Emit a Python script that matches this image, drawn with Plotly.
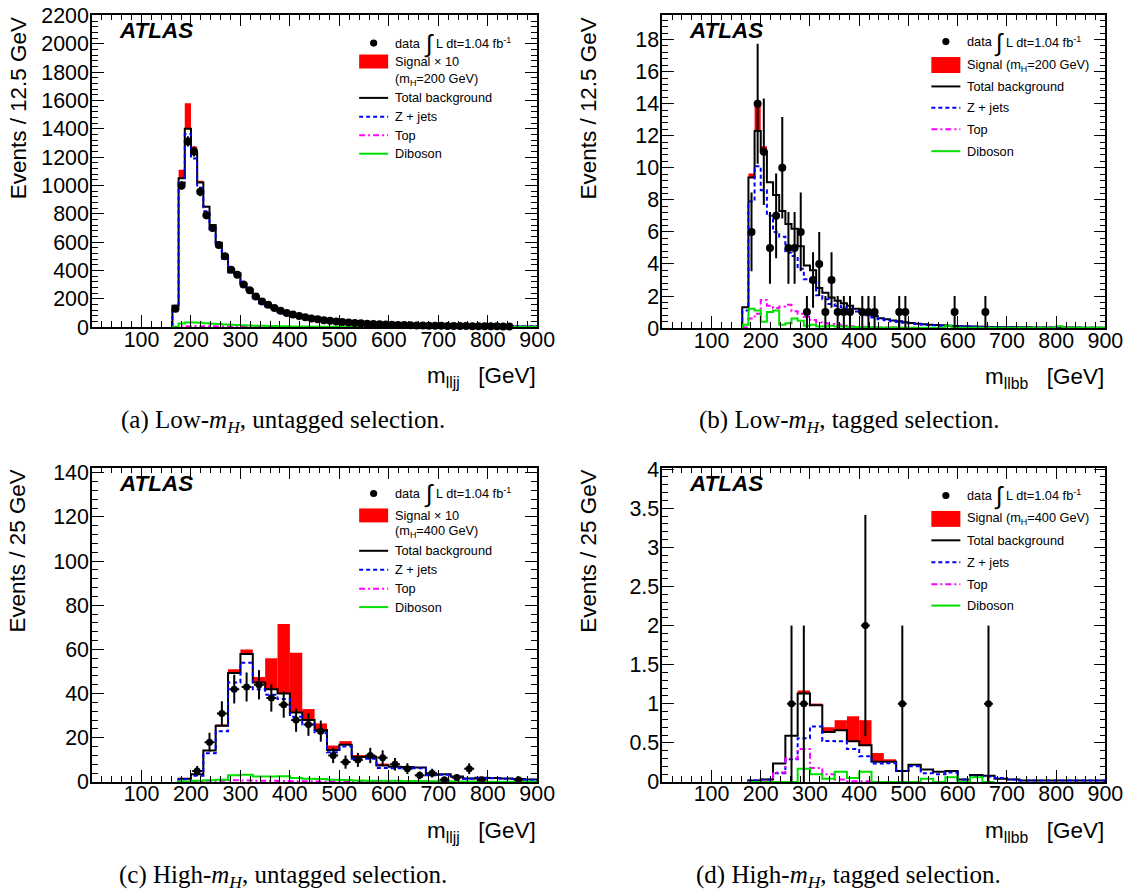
import numpy as np
import plotly.graph_objects as go

W, H = 1152, 904   # figure size; positions below are given in target-picture pixels

# ---------------- (a) Low-mH, untagged: m_lljj, 12.5 GeV bins from 162.5 GeV ----------------
a_bin0, a_binw = 162.5, 12.5
a_total = [150, 1050, 1400, 1230, 1020, 850, 720, 595, 505, 405, 380, 305, 265, 215, 180, 155, 132, 112,
           96, 86, 77, 69, 62, 56, 50, 45, 40, 36, 33, 30, 27, 25, 23, 21, 19, 17.5, 16, 15, 14, 13, 12, 11,
           10, 9.5, 9, 8.5, 8, 7.5, 7, 6.5, 6, 5.7, 5.4, 5.1, 4.8, 4.5, 4.2, 4.0, 3.8]
a_zjets = [146, 1019, 1362, 1190, 984, 818, 691, 570, 482, 385, 362, 289, 251, 203, 169, 145.5, 123.5,
           104.8, 90, 80.5, 72.2, 64.8, 58.4, 52.8, 47.1, 42.5, 37.8, 34.1, 31.2, 28.3, 25.6, 23.7, 21.8,
           19.9, 18.1, 16.6, 15.2, 14.3, 13.3, 12.4, 11.5, 10.6, 9.6, 9.1, 8.7, 8.2, 7.7, 7.2, 6.7, 6.3,
           5.8, 5.5, 5.2, 4.9, 4.6, 4.3, 4.1, 3.9, 3.7]
a_top = [1, 5, 6, 7, 6, 5, 5, 4, 4, 3, 3, 3, 2, 2, 2, 1.5, 1.5, 1.2, 1, 1, 0.8, 0.7, 0.6, 0.5, 0.5, 0.4,
         0.4, 0.3, 0.3, 0.3, 0.2, 0.2, 0.2, 0.2, 0.1, 0.1, 0.1, 0.1, 0.1, 0.1]
a_dibo = [3, 26, 32, 33, 30, 27, 24, 21, 19, 17, 15, 13, 12, 10, 9, 8, 7, 6, 5, 4.5, 4, 3.5, 3, 2.7, 2.4,
          2.1, 1.8, 1.6, 1.5, 1.4, 1.2, 1.1, 1.0, 0.9, 0.8, 0.8, 0.7, 0.6, 0.6, 0.5, 0.5, 0.4, 0.4, 0.4,
          0.3, 0.3, 0.3, 0.3, 0.3, 0.2, 0.2, 0.2, 0.2, 0.2, 0.2, 0.2, 0.1, 0.1, 0.1]
a_signal = [3, 60, 180, 45, 10, 3]          # signal x 10, stacked on total background
a_data = [130, 1000, 1310, 1240, 955, 790, 700, 580, 500, 405, 370, 300, 260, 215, 180, 158, 135, 115,
          100, 88, 79, 70, 61, 55, 49, 44, 39, 35, 32, 29, 27, 24, 22, 20, 18, 17, 15, 14, 13, 12, 11, 10,
          9, 9, 8, 8, 7, 7, 6, 6, 5, 5, 5, 4, 4]

# ---------------- (b) Low-mH, tagged: m_llbb, 12.5 GeV bins from 162.5 GeV ----------------
b_bin0, b_binw = 162.5, 12.5
b_total = [1.3, 9.4, 12.3, 11.0, 9.1, 8.3, 7.3, 6.5, 6.2, 5.1, 3.9, 3.6, 2.5, 2.2, 1.9, 1.7, 1.55, 1.4,
           1.2, 1.0, 0.9, 0.75, 0.62, 0.55, 0.48, 0.42, 0.36, 0.31, 0.27, 0.24, 0.21, 0.19, 0.17, 0.15,
           0.13, 0.12, 0.11, 0.1, 0.09, 0.08, 0.07, 0.07, 0.06, 0.06, 0.05, 0.05, 0.05, 0.04, 0.04, 0.04,
           0.04, 0.03, 0.03, 0.03, 0.03, 0.02, 0.02, 0.02, 0.02]
b_zjets = [1.1, 7.9, 10.1, 8.6, 7.0, 6.0, 5.7, 4.7, 4.5, 3.7, 3.05, 2.9, 2.05, 1.8, 1.5, 1.4, 1.3, 1.2,
           1.03, 0.87, 0.8, 0.66, 0.55, 0.49, 0.43, 0.38, 0.33, 0.28, 0.25, 0.22, 0.19, 0.17, 0.15, 0.14,
           0.12, 0.11, 0.1, 0.09, 0.08, 0.07, 0.06, 0.06, 0.05, 0.05, 0.05, 0.04, 0.04, 0.04, 0.03, 0.03,
           0.03, 0.03, 0.02, 0.02, 0.02, 0.02, 0.02, 0.02, 0.02]
b_top = [0.05, 0.6, 0.9, 1.75, 1.4, 1.25, 1.35, 1.45, 1.05, 0.9, 0.7, 0.5, 0.35, 0.3, 0.25, 0.2, 0.15,
         0.12, 0.1, 0.08, 0.06, 0.05, 0.04, 0.03, 0.03, 0.02, 0.02, 0.02, 0.01, 0.01]
b_dibo = [0.2, 1.2, 1.1, 0.4, 1.0, 1.1, 0.2, 0.3, 0.6, 0.45, 0.15, 0.2, 0.1, 0.1, 0.15, 0.1, 0.1, 0.08,
          0.07, 0.05, 0.05, 0.04, 0.04, 0.03, 0.03, 0.03, 0.02, 0.02, 0.02, 0.02, 0.02, 0.02, 0.02, 0.15,
          0.02, 0.02, 0.02, 0.02, 0.02, 0.02, 0.02, 0.02, 0.02, 0.02, 0.02, 0.02, 0.02, 0.02, 0.02, 0.02,
          0.02, 0.12, 0.02, 0.02, 0.02, 0.02, 0.02, 0.02, 0.02]
b_signal = [0.0, 0.25, 1.6, 0.35]
b_data_x = [181.25, 193.75, 206.25, 218.75, 231.25, 243.75, 256.25, 268.75, 281.25, 293.75, 306.25,
            318.75, 331.25, 343.75, 356.25, 368.75, 381.25, 406.25, 418.75, 431.25, 481.25, 493.75,
            593.75, 656.25]
b_data_n = [6, 14, 11, 5, 7, 10, 5, 5, 6, 1, 3, 4, 1, 3, 1, 1, 1, 1, 1, 1, 1, 1, 1, 1]

# ---------------- (c) High-mH, untagged: m_lljj, 25 GeV bins from 175 GeV ----------------
c_bin0, c_binw = 175.0, 25.0
c_total = [1.5, 3.5, 14.2, 25.5, 49.3, 57.9, 45, 42, 40, 31.5, 28, 23.5, 14.5, 16.9, 11.3, 11.3, 7.5,
           6.9, 6.8, 6.6, 3.3, 3.5, 2.5, 1.6, 1.9, 1.8, 1.6, 1.4, 1.1]
c_zjets = [1.2, 2.8, 13, 23, 45, 54, 42, 39.5, 37.5, 29.5, 26, 22, 13.5, 16, 10.5, 10.5, 6.3, 6.2, 6.2,
           6.2, 3.0, 3.3, 2.3, 1.5, 1.8, 1.7, 1.5, 1.3, 1.0]
c_top = [0.1, 0.3, 0.5, 0.6, 0.8, 0.7, 0.6, 0.5, 0.4, 0.3, 0.3, 0.2, 0.2, 0.2, 0.1, 0.1, 0.1, 0.1, 0.1, 0.1]
c_dibo = [0.2, 0.5, 0.8, 1.0, 3.0, 3.3, 2.5, 2.5, 2.6, 1.8, 1.5, 1.3, 1.0, 0.9, 0.7, 0.6, 0.5, 0.5, 0.4,
          0.4, 0.3, 0.3, 0.2, 0.2, 0.15, 0.1, 0.1, 0.1, 0.1]
c_signal = [0, 0, 0, 0.3, 1.7, 2.1, 2.5, 14, 31.5, 27, 5, 3, 2, 1.6, 0.9, 0.9, 0.5]
c_data_x = [212.5, 237.5, 262.5, 287.5, 312.5, 337.5, 362.5, 387.5, 412.5, 437.5, 462.5, 487.5, 512.5,
            537.5, 562.5, 587.5, 612.5, 637.5, 662.5, 687.5, 712.5, 737.5, 762.5, 787.5, 862.5]
c_data_n = [5, 18, 31, 42, 43, 44, 38, 35, 28, 26, 23, 12, 9, 10, 12, 11, 8, 6, 3, 4, 1, 2, 6, 1, 1]

# ---------------- (d) High-mH, tagged: m_llbb, 25 GeV bins from 175 GeV ----------------
d_bin0, d_binw = 175.0, 25.0
d_total = [0.02, 0.03, 0.235, 0.59, 1.13, 0.98, 0.64, 0.66, 0.52, 0.47, 0.26, 0.26, 0.14, 0.22, 0.16,
           0.13, 0.14, 0.03, 0.09, 0.08, 0.04, 0.03, 0.02, 0.02, 0.02, 0.02, 0.02, 0.02, 0.02]
d_zjets = [0.02, 0.03, 0.11, 0.29, 0.56, 0.71, 0.525, 0.52, 0.42, 0.33, 0.235, 0.24, 0.14, 0.2, 0.11,
           0.1, 0.12, 0.03, 0.07, 0.07, 0.05, 0.03, 0.02, 0.02, 0.02, 0.02, 0.02, 0.02, 0.02]
d_top = [0, 0.01, 0.12, 0.3, 0.42, 0.18, 0.1, 0.03, 0.01, 0.01]
d_dibo = [0, 0, 0, 0, 0.17, 0.1, 0.04, 0.13, 0.05, 0.13, 0, 0, 0, 0, 0.04, 0, 0.06, 0, 0.06, 0]
d_signal = [0, 0, 0, 0, 0.04, 0.02, 0.06, 0.13, 0.32, 0.32, 0.11, 0.03]
d_data_x = [262.5, 287.5, 412.5, 487.5, 662.5]
d_data_n = [1, 1, 2, 1, 1]

# ---------------- styling ----------------
SANS = "Liberation Sans, Arial, Helvetica, sans-serif"
SERIF = "Liberation Serif, Times New Roman, serif"
RED, BLUE, MAG, GREEN = "#ff0000", "#0000ff", "#ff00ff", "#00e000"
BLUE_DASH = "4px,3px"
MAG_DASH = "6px,3px,2px,3px"

# the photographed page comes out slightly shrunk/offset; place items in target-picture pixels
OX, OY, SX, SY = 1.0, 7.8, 0.984, 0.978
FS = 1.02


def px(x):
    return ((x - OX) / SX) / W


def py(y):
    return 1 - ((y - OY) / SY) / H


def step_xy(bin0, binw, vals):
    edges = bin0 + binw * np.arange(len(vals) + 1)
    xs = np.concatenate([[edges[0]], edges])
    ys = np.concatenate([[0.0], np.asarray(vals, float), [0.0]])
    return xs, ys


panels = [
    dict(xa="x", ya="y", bin0=a_bin0, binw=a_binw, total=a_total, zjets=a_zjets, top=a_top, dibo=a_dibo,
         signal=a_signal,
         dx=a_bin0 + a_binw * (np.arange(len(a_data)) + 0.5), dn=a_data, xerr=0, msize=8,
         dom_x=(93, 538), dom_y=(12.5, 326), yr=[0, 2205], ydt=200, ymin=40,
         ytitle="Events / 12.5 GeV", xsub="lljj", cap="(a) Low-", cap2="untagged selection.",
         mass="200", left=True, cap_x=284, cap_y=421),
    dict(xa="x2", ya="y2", bin0=b_bin0, binw=b_binw, total=b_total, zjets=b_zjets, top=b_top, dibo=b_dibo,
         signal=b_signal, dx=b_data_x, dn=b_data_n, xerr=0, msize=8,
         dom_x=(663, 1106), dom_y=(12.5, 327), yr=[0, 19.55], ydt=2, ymin=0.4,
         ytitle="Events / 12.5 GeV", xsub="llbb", cap="(b) Low-", cap2="tagged selection.",
         mass="200", left=False, cap_x=850, cap_y=421),
    dict(xa="x3", ya="y3", bin0=c_bin0, binw=c_binw, total=c_total, zjets=c_zjets, top=c_top, dibo=c_dibo,
         signal=c_signal, dx=c_data_x, dn=c_data_n, xerr=10, msize=7,
         dom_x=(93, 538), dom_y=(467, 782.5), yr=[0, 142.3], ydt=20, ymin=4,
         ytitle="Events / 25 GeV", xsub="lljj", cap="(c) High-", cap2="untagged selection.",
         mass="400", left=True, cap_x=284, cap_y=877),
    dict(xa="x4", ya="y4", bin0=d_bin0, binw=d_binw, total=d_total, zjets=d_zjets, top=d_top, dibo=d_dibo,
         signal=d_signal, dx=d_data_x, dn=d_data_n, xerr=9, msize=7,
         dom_x=(663, 1106), dom_y=(467, 782.5), yr=[0, 4.02], ydt=0.5, ymin=0.1,
         ytitle="Events / 25 GeV", xsub="llbb", cap="(d) High-", cap2="tagged selection.",
         mass="400", left=False, cap_x=849, cap_y=877),
]

fig = go.Figure()
layout = dict(width=W, height=H, autosize=False, margin=dict(l=0, r=0, t=0, b=0, pad=0),
              paper_bgcolor="white", plot_bgcolor="white", showlegend=False, barmode="overlay",
              font=dict(family=SANS, color="black"))
shapes, annotations = [], []

for p in panels:
    xa, ya = p["xa"], p["ya"]
    sig = np.asarray(p["signal"], float)
    centers = p["bin0"] + p["binw"] * (np.arange(len(sig)) + 0.5)
    fig.add_trace(go.Bar(x=centers, y=sig, base=np.asarray(p["total"][:len(sig)], float), width=p["binw"],
                         marker=dict(color=RED, line=dict(width=0)), xaxis=xa, yaxis=ya))
    for vals, color, dash in [(p["total"], "black", "solid"), (p["zjets"], BLUE, BLUE_DASH),
                              (p["top"], MAG, MAG_DASH), (p["dibo"], GREEN, "solid")]:
        xs, ys = step_xy(p["bin0"], p["binw"], vals)
        fig.add_trace(go.Scatter(x=xs, y=ys, mode="lines", line=dict(color=color, width=2, dash=dash, shape="hv"),
                                 xaxis=xa, yaxis=ya))
    dn = np.asarray(p["dn"], float)
    err_x = dict(type="constant", value=p["xerr"], thickness=2, width=0, color="black", visible=p["xerr"] > 0)
    fig.add_trace(go.Scatter(x=p["dx"], y=dn, mode="markers", cliponaxis=False,
                             marker=dict(color="black", size=p["msize"]),
                             error_y=dict(type="data", array=np.sqrt(dn), thickness=2, width=0, color="black"),
                             error_x=err_x, xaxis=xa, yaxis=ya))

    axkey = "xaxis" + xa[1:]
    aykey = "yaxis" + ya[1:]
    common = dict(showline=True, linecolor="black", linewidth=1.6, mirror="allticks", ticks="inside",
                  ticklen=12, tickwidth=1.3, tickcolor="black", showgrid=False, zeroline=False,
                  tickfont=dict(family=SANS, size=21 * FS, color="black"))
    layout[axkey] = dict(common, domain=[px(p["dom_x"][0]), px(p["dom_x"][1])], range=[0, 900],
                         tickmode="array", tickvals=list(range(100, 901, 100)), anchor=ya,
                         ticklabelstandoff=-8,
                         minor=dict(ticks="inside", ticklen=6, tickwidth=1.1, tickcolor="black",
                                    tickmode="linear", tick0=0, dtick=20, showgrid=False))
    layout[aykey] = dict(common, domain=[py(p["dom_y"][1]), py(p["dom_y"][0])], range=p["yr"],
                         tickmode="linear", tick0=0, dtick=p["ydt"], anchor=xa, ticklabelstandoff=-3,
                         minor=dict(ticks="inside", ticklen=6, tickwidth=1.1, tickcolor="black",
                                    tickmode="linear", tick0=0, dtick=p["ymin"], showgrid=False))

    x0, x1 = p["dom_x"]
    yt, yb = p["dom_y"]
    ytx = 19 if p["left"] else 589
    annotations.append(dict(xref="paper", yref="paper", x=px(ytx), y=py(yt + 0.5), xanchor="center",
                            yanchor="top", textangle=-90, showarrow=False, text=p["ytitle"],
                            font=dict(family=SANS, size=22 * FS, color="black")))
    annotations.append(dict(xref="paper", yref="paper", x=px(x1 + 1), y=py(yb + 50), xanchor="right",
                            yanchor="middle", showarrow=False,
                            text="m<sub>" + p["xsub"] + "</sub>\u00a0\u00a0\u00a0[GeV]",
                            font=dict(family=SANS, size=22 * FS, color="black")))
    annotations.append(dict(xref="paper", yref="paper", x=px(x0 + 25), y=py(yt + 15.5), xanchor="left",
                            yanchor="middle", showarrow=False, text="<b><i>ATLAS</i></b>",
                            font=dict(family=SANS, size=22 * FS, color="black")))
    annotations.append(dict(xref="paper", yref="paper", x=px(p["cap_x"]), y=py(p["cap_y"]), xanchor="center",
                            yanchor="middle", showarrow=False,
                            text=p["cap"] + "<i>m</i><sub><i>H</i></sub>, " + p["cap2"],
                            font=dict(family=SERIF, size=24.5 * FS, color="black")))

    # legend
    f = dict(family=SANS, size=12.5 * FS, color="black")
    if p["left"]:
        sx0, sx1, tx = 360, 389, 394
        if yt < 100:
            rows = dict(data=41, sig=59.5, sig2=77.5, tot=96, z=115, top=133.5, dib=152)
        else:
            rows = dict(data=493, sig=515, sig2=531, tot=550.5, z=569.5, top=588.5, dib=607)
        ix, lx = tx + 36, tx + 41
    else:
        sx0, sx1, tx = 932, 961, 966
        if yt < 100:
            rows = dict(data=39.5, sig=63, tot=84.5, z=106, top=127.5, dib=149.5)
        else:
            rows = dict(data=495, sig=518.5, tot=540, z=562, top=584, dib=605.5)
        ix, lx = tx + 34, tx + 39
    cx = (sx0 + sx1) / 2
    shapes.append(dict(type="circle", xref="paper", yref="paper", x0=px(cx - 3.6), x1=px(cx + 3.6),
                       y0=py(rows["data"] + 3.6), y1=py(rows["data"] - 3.6), fillcolor="black",
                       line=dict(width=0)))
    annotations.append(dict(xref="paper", yref="paper", x=px(tx), y=py(rows["data"]), xanchor="left",
                            yanchor="middle", showarrow=False, text="data", font=f))
    annotations.append(dict(xref="paper", yref="paper", x=px(ix), y=py(rows["data"] + 1), xanchor="center",
                            yanchor="middle", showarrow=False, text="\u222b",
                            font=dict(family=SANS, size=24 * FS, color="black")))
    annotations.append(dict(xref="paper", yref="paper", x=px(lx), y=py(rows["data"]), xanchor="left",
                            yanchor="middle", showarrow=False, text="L dt=1.04 fb<sup>-1</sup>", font=f))
    hbox = 7 if p["left"] else 8
    shapes.append(dict(type="rect", xref="paper", yref="paper", x0=px(sx0), x1=px(sx1),
                       y0=py(rows["sig"] + hbox), y1=py(rows["sig"] - hbox), fillcolor=RED, line=dict(width=0)))
    if p["left"]:
        annotations.append(dict(xref="paper", yref="paper", x=px(tx), y=py(rows["sig"]), xanchor="left",
                                yanchor="middle", showarrow=False, text="Signal \u00d7 10", font=f))
        annotations.append(dict(xref="paper", yref="paper", x=px(tx), y=py(rows["sig2"]), xanchor="left",
                                yanchor="middle", showarrow=False,
                                text="(m<sub>H</sub>=" + p["mass"] + " GeV)", font=f))
    else:
        annotations.append(dict(xref="paper", yref="paper", x=px(tx), y=py(rows["sig"]), xanchor="left",
                                yanchor="middle", showarrow=False,
                                text="Signal (m<sub>H</sub>=" + p["mass"] + " GeV)", font=f))
    for key, label, color, dash in [("tot", "Total background", "black", "solid"),
                                    ("z", "Z + jets", BLUE, BLUE_DASH),
                                    ("top", "Top", MAG, MAG_DASH),
                                    ("dib", "Diboson", GREEN, "solid")]:
        shapes.append(dict(type="line", xref="paper", yref="paper", x0=px(sx0), x1=px(sx1),
                           y0=py(rows[key]), y1=py(rows[key]), line=dict(color=color, width=2, dash=dash)))
        annotations.append(dict(xref="paper", yref="paper", x=px(tx), y=py(rows[key]), xanchor="left",
                                yanchor="middle", showarrow=False, text=label, font=f))

layout["shapes"] = shapes
layout["annotations"] = annotations
fig.update_layout(**layout)

page_fix = ("document.documentElement.style.margin='0';document.body.style.margin='0';"
            "document.body.style.padding='0';document.body.style.overflow='hidden';"
            "var d=document.getElementById('{plot_id}');d.style.position='absolute';"
            "d.style.left='0px';d.style.top='0px';")
fig.write_html("out.html", config={"responsive": False, "displayModeBar": False}, post_script=page_fix)
